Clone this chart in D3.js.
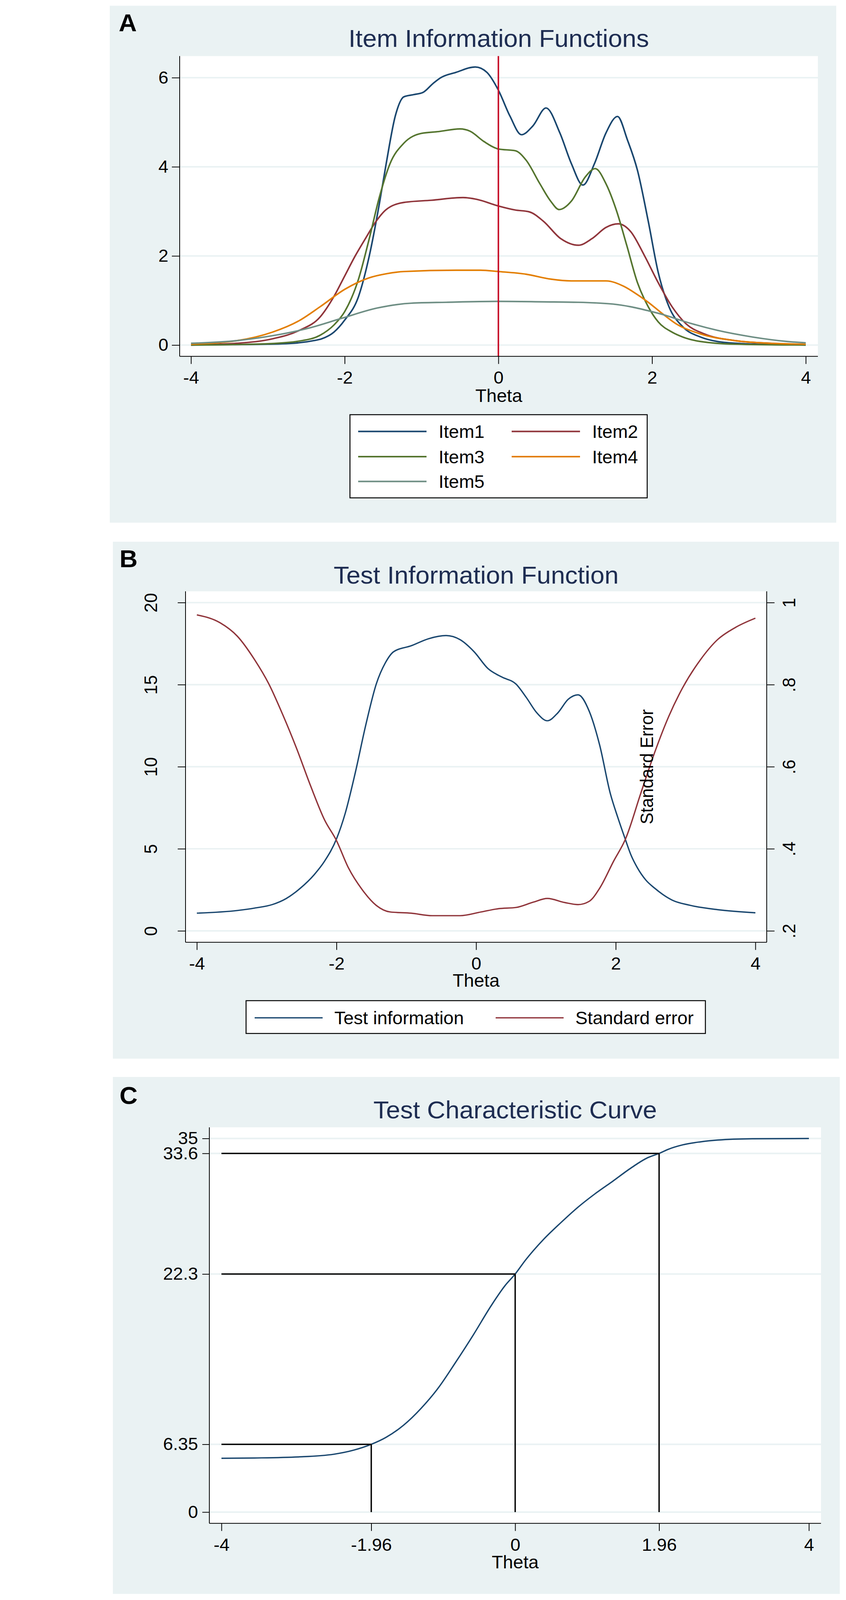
<!DOCTYPE html>
<html lang="en">
<head>
    <meta charset="UTF-8">
    <title>IRT information and characteristic curves</title>
    <script src="https://d3js.org/d3.v7.min.js"></script>
    <style>
        html, body {
            margin: 0;
            overflow: hidden;
            background: #ffffff;
        }
        svg {
            display: block;
            font-family: "Liberation Sans", Arial, sans-serif;
        }
    </style>
</head>
<body>
<svg id="viz"></svg>
<script>
    // ---- data ----
    var thetaTicks = [-4, -2, 0, 2, 4];

    // panel A : item information
    var itemNames = ["Item1", "Item2", "Item3", "Item4", "Item5"];
    var itemColors = ["#1a476f", "#90353b", "#55752f", "#e37e00", "#6e8e84"];
    var infoTicksA = [0, 2, 4, 6];
    var item1 = [[-4, 0], [-3.5, 0.01], [-3, 0.02], [-2.6, 0.05], [-2.4, 0.1], [-2.3, 0.14], [-2.14, 0.29],
        [-2, 0.56], [-1.82, 1.09], [-1.68, 2.0], [-1.55, 3.16], [-1.46, 4.07], [-1.34, 5.15], [-1.23, 5.57],
        [-1.1, 5.62], [-0.98, 5.67], [-0.85, 5.87], [-0.75, 6.0], [-0.55, 6.12], [-0.3, 6.24], [-0.15, 6.12],
        [0, 5.72], [0.15, 5.14], [0.3, 4.72], [0.45, 4.92], [0.62, 5.32], [0.8, 4.76], [0.95, 4.07],
        [1.1, 3.59], [1.25, 4.07], [1.4, 4.76], [1.55, 5.13], [1.68, 4.6], [1.81, 3.92], [1.95, 2.78],
        [2.08, 1.63], [2.22, 0.86], [2.4, 0.41], [2.63, 0.18], [2.85, 0.08], [3.2, 0.03], [3.6, 0.01], [4, 0]];
    var item2 = [[-4, 0], [-3.4, 0.04], [-2.94, 0.14], [-2.59, 0.33], [-2.32, 0.63], [-2.14, 1.09], [-2, 1.55],
        [-1.86, 2.01], [-1.73, 2.39], [-1.59, 2.78], [-1.46, 3.04], [-1.23, 3.2], [-0.87, 3.25], [-0.46, 3.31],
        [-0.28, 3.27], [0, 3.12], [0.22, 3.03], [0.4, 2.99], [0.585, 2.78], [0.81, 2.39], [1.04, 2.24],
        [1.22, 2.39], [1.4, 2.64], [1.56, 2.72], [1.72, 2.55], [1.9, 2.01], [2.08, 1.4], [2.26, 0.86],
        [2.44, 0.48], [2.68, 0.25], [3.08, 0.1], [3.53, 0.04], [4, 0.01]];
    var item3 = [[-4, 0], [-3.5, 0.01], [-3, 0.03], [-2.59, 0.09], [-2.32, 0.22], [-2.14, 0.45], [-2, 0.75],
        [-1.82, 1.48], [-1.68, 2.39], [-1.55, 3.31], [-1.41, 4.07], [-1.23, 4.53], [-1, 4.75], [-0.78, 4.79],
        [-0.5, 4.85], [-0.37, 4.8], [-0.19, 4.57], [0, 4.4], [0.22, 4.36], [0.36, 4.15], [0.54, 3.62],
        [0.68, 3.23], [0.79, 3.04], [0.95, 3.23], [1.13, 3.77], [1.26, 3.96], [1.4, 3.62], [1.54, 3.0],
        [1.67, 2.24], [1.81, 1.4], [1.95, 0.86], [2.08, 0.52], [2.26, 0.29], [2.4, 0.18], [2.63, 0.08],
        [3.08, 0.02], [4, 0]];
    var item4 = [[-4, 0.02], [-3.4, 0.1], [-2.94, 0.29], [-2.59, 0.55], [-2.32, 0.86], [-2, 1.25], [-1.68, 1.51],
        [-1.46, 1.6], [-1.23, 1.65], [-0.55, 1.68], [-0.23, 1.68], [0, 1.65], [0.36, 1.59], [0.68, 1.48],
        [0.95, 1.44], [1.4, 1.44], [1.63, 1.32], [1.81, 1.13], [1.95, 0.96], [2.13, 0.71], [2.31, 0.48],
        [2.63, 0.25], [3.08, 0.1], [3.53, 0.04], [4, 0.02]];
    var item5 = [[-4, 0.04], [-3.4, 0.1], [-2.94, 0.21], [-2.49, 0.37], [-2.04, 0.6], [-1.58, 0.83], [-1.13, 0.94],
        [-0.68, 0.96], [0, 0.98], [0.585, 0.97], [1.04, 0.96], [1.49, 0.92], [1.72, 0.86], [1.95, 0.77],
        [2.17, 0.67], [2.4, 0.54], [2.85, 0.33], [3.31, 0.18], [3.76, 0.08], [4, 0.05]];
    var items = [item1, item2, item3, item4, item5];

    // panel B : test information and standard error
    var infoTicksB = [0, 5, 10, 15, 20];
    var seTicks = [0.2, 0.4, 0.6, 0.8, 1];
    var seTickLabels = [".2", ".4", ".6", ".8", "1"];
    var seriesNamesB = ["Test information", "Standard error"];
    var seriesColorsB = ["#1a476f", "#90353b"];
    var testInfo = [[-4, 1.08], [-3.42, 1.24], [-3.17, 1.39], [-2.92, 1.6], [-2.72, 1.97], [-2.52, 2.59],
        [-2.32, 3.42], [-2.17, 4.25], [-2, 5.6], [-1.875, 7.16], [-1.73, 9.65], [-1.58, 12.55], [-1.43, 15.04],
        [-1.3, 16.33], [-1.18, 17.01], [-0.93, 17.37], [-0.68, 17.8], [-0.43, 17.99], [-0.23, 17.74],
        [-0.03, 17.01], [0.17, 15.98], [0.37, 15.46], [0.57, 15.04], [0.72, 14.21], [0.87, 13.28], [1.02, 12.8],
        [1.17, 13.28], [1.32, 14.11], [1.46, 14.38], [1.62, 13.38], [1.77, 11.31], [1.92, 8.4], [2.03, 6.9],
        [2.135, 5.6], [2.22, 4.6], [2.31, 3.84], [2.43, 3.1], [2.56, 2.59], [2.81, 1.87], [3.06, 1.56],
        [3.46, 1.29], [4, 1.1]];
    var stdError = [[-4, 0.97], [-3.67, 0.951], [-3.42, 0.918], [-3.17, 0.86], [-2.97, 0.802], [-2.77, 0.727],
        [-2.57, 0.644], [-2.37, 0.553], [-2.17, 0.47], [-2, 0.42], [-1.83, 0.354], [-1.63, 0.3], [-1.43, 0.262],
        [-1.23, 0.246], [-0.93, 0.243], [-0.63, 0.237], [-0.23, 0.237], [0.07, 0.246], [0.32, 0.254],
        [0.57, 0.257], [0.82, 0.27], [1.02, 0.279], [1.27, 0.269], [1.46, 0.264], [1.62, 0.272], [1.77, 0.304],
        [1.97, 0.37], [2.14, 0.424], [2.36, 0.536], [2.56, 0.636], [2.76, 0.723], [2.96, 0.793], [3.21, 0.86],
        [3.46, 0.91], [3.71, 0.939], [4, 0.962]];

    // panel C : test characteristic curve
    var thetaTicksC = [-4, -1.96, 0, 1.96, 4];
    var scoreTicksC = [0, 6.35, 22.3, 33.6, 35];
    var cutTheta = [-1.96, 0, 1.96];
    var cutScore = [6.35, 22.3, 33.6];
    var tcc = [[-4, 5.04], [-3.55, 5.07], [-2.95, 5.17], [-2.47, 5.42], [-2.2, 5.8], [-1.96, 6.35], [-1.76, 7.0],
        [-1.52, 8.14], [-1.28, 9.73], [-1.045, 11.65], [-0.81, 14.04], [-0.57, 16.6], [-0.33, 19.3],
        [-0.14, 21.2], [0, 22.3], [0.14, 23.6], [0.38, 25.5], [0.62, 27.1], [0.855, 28.56], [1.09, 29.83],
        [1.33, 31.0], [1.57, 32.2], [1.805, 33.2], [1.96, 33.6], [2.09, 34.0], [2.28, 34.4], [2.52, 34.68],
        [2.76, 34.85], [3.23, 34.97], [4, 35.0]];

    // ---- drawing ----
    // the figure is laid out on a 2166 x 4194 sheet and stretched to the visible window height
    var W = 2166, H = 4194;
    var viewH = window.innerHeight || H;
    var bgColor = "#eaf2f3";
    var titleColor = "#1e2d52";
    var tickFont = 46;

    var svg = d3.select("#viz")
        .attr("width", W)
        .attr("height", viewH)
        .attr("viewBox", "0 0 " + W + " " + H)
        .attr("preserveAspectRatio", "none");

    svg.append("rect").attr("width", W).attr("height", H).attr("fill", "#ffffff");

    function panel(p) {
        var g = svg.append("g");
        g.append("rect")
            .attr("x", p.bx).attr("y", p.by)
            .attr("width", p.bw).attr("height", p.bh)
            .attr("fill", bgColor);
        g.append("rect")
            .attr("x", p.left).attr("y", p.top)
            .attr("width", p.right - p.left).attr("height", p.bottom - p.top)
            .attr("fill", "#ffffff");
        g.append("text")
            .attr("x", p.letterX).attr("y", p.letterY)
            .attr("font-size", 64).attr("font-weight", "bold")
            .attr("fill", "#000")
            .text(p.letter);
        g.append("text")
            .attr("x", (p.left + p.right) / 2).attr("y", p.titleY)
            .attr("text-anchor", "middle")
            .attr("font-size", 65).attr("fill", titleColor)
            .text(p.title);
        g.append("text")
            .attr("x", (p.left + p.right) / 2).attr("y", p.xTitleY)
            .attr("text-anchor", "middle")
            .attr("font-size", 47).attr("fill", "#000")
            .text("Theta");
        return g;
    }

    function grid(g, p, y, ticks) {
        g.selectAll(null)
            .data(ticks)
            .enter()
            .append("line")
            .attr("x1", p.left).attr("x2", p.right)
            .attr("y1", function (d) { return y(d); })
            .attr("y2", function (d) { return y(d); })
            .attr("stroke", bgColor)
            .attr("stroke-width", 4);
    }

    function frame(g, p, rightLine) {
        g.append("line")
            .attr("x1", p.left).attr("x2", p.left)
            .attr("y1", p.top).attr("y2", p.bottom)
            .attr("stroke", "#000").attr("stroke-width", 2);
        g.append("line")
            .attr("x1", p.left).attr("x2", p.right)
            .attr("y1", p.bottom).attr("y2", p.bottom)
            .attr("stroke", "#000").attr("stroke-width", 2);
        if (rightLine) {
            g.append("line")
                .attr("x1", p.right).attr("x2", p.right)
                .attr("y1", p.top).attr("y2", p.bottom)
                .attr("stroke", "#000").attr("stroke-width", 2);
        }
    }

    function styleAxis(sel) {
        sel.select(".domain").remove();
        sel.selectAll(".tick line").attr("stroke", "#000").attr("stroke-width", 2);
        sel.selectAll(".tick text")
            .attr("fill", "#000")
            .attr("font-size", tickFont)
            .attr("font-family", "'Liberation Sans', Arial, sans-serif");
    }

    function xAxisBottom(g, p, x, ticks) {
        g.append("g")
            .attr("transform", "translate(0," + p.bottom + ")")
            .call(d3.axisBottom(x).tickValues(ticks).tickSize(20).tickPadding(19)
                .tickFormat(function (d) { return String(d); }))
            .call(styleAxis);
    }

    // ---------- Panel A ----------
    var pA = {bx: 281, by: 15, bw: 1860, bh: 1355, left: 460, right: 2094, top: 147, bottom: 934,
        letter: "A", letterX: 304, letterY: 82, title: "Item Information Functions", titleY: 123, xTitleY: 1054};
    var gA = panel(pA);
    var xA = d3.scaleLinear().domain([-4, 4]).range([489, 2063]);
    var yA = d3.scaleLinear().domain([0, 6]).range([904.5, 203.6]);
    grid(gA, pA, yA, infoTicksA);

    var lineA = d3.line()
        .x(function (d) { return xA(d[0]); })
        .y(function (d) { return yA(d[1]); })
        .curve(d3.curveMonotoneX);

    // draw in Stata order, item1 first
    gA.selectAll(".item")
        .data(items)
        .enter()
        .append("path")
        .attr("class", "item")
        .attr("d", lineA)
        .attr("fill", "none")
        .attr("stroke", function (d, i) { return itemColors[i]; })
        .attr("stroke-width", 4)
        .attr("stroke-linejoin", "round");

    gA.append("line")
        .attr("x1", xA(0)).attr("x2", xA(0))
        .attr("y1", pA.top).attr("y2", pA.bottom)
        .attr("stroke", "#c8102e").attr("stroke-width", 4);

    frame(gA, pA, false);
    gA.append("g")
        .attr("transform", "translate(" + pA.left + ",0)")
        .call(d3.axisLeft(yA).tickValues(infoTicksA).tickSize(20).tickPadding(9)
            .tickFormat(function (d) { return String(d); }))
        .call(styleAxis);
    xAxisBottom(gA, pA, xA, thetaTicks);

    // legend A
    var legA = gA.append("g");
    legA.append("rect")
        .attr("x", 896).attr("y", 1087).attr("width", 761).attr("height", 218)
        .attr("fill", "#fff").attr("stroke", "#000").attr("stroke-width", 2.5);
    var legAEntries = legA.selectAll(".entry")
        .data(itemNames)
        .enter()
        .append("g")
        .attr("class", "entry")
        .attr("transform", function (d, i) {
            return "translate(" + (i % 2 === 0 ? 917 : 1310) + "," + [1131, 1197, 1262][Math.floor(i / 2)] + ")";
        });
    legAEntries.append("line")
        .attr("x1", 0).attr("x2", 175)
        .attr("stroke", function (d, i) { return itemColors[i]; })
        .attr("stroke-width", 4);
    legAEntries.append("text")
        .attr("x", 206).attr("dy", "0.36em")
        .attr("font-size", 47).attr("fill", "#000")
        .text(function (d) { return d; });

    // ---------- Panel B ----------
    var pB = {bx: 289, by: 1420, bw: 1859, bh: 1355, left: 475, right: 1963, top: 1550, bottom: 2470,
        letter: "B", letterX: 306, letterY: 1487, title: "Test Information Function", titleY: 1530, xTitleY: 2586};
    var gB = panel(pB);
    var xB = d3.scaleLinear().domain([-4, 4]).range([504, 1934]);
    var yB = d3.scaleLinear().domain([0, 20]).range([2440, 1579.5]);
    var ySE = d3.scaleLinear().domain([0.2, 1]).range([2440, 1579.5]);
    grid(gB, pB, yB, infoTicksB);

    var infoLine = d3.line()
        .x(function (d) { return xB(d[0]); })
        .y(function (d) { return yB(d[1]); })
        .curve(d3.curveMonotoneX);
    var seLine = d3.line()
        .x(function (d) { return xB(d[0]); })
        .y(function (d) { return ySE(d[1]); })
        .curve(d3.curveMonotoneX);

    gB.append("path").attr("d", infoLine(testInfo))
        .attr("fill", "none").attr("stroke", seriesColorsB[0]).attr("stroke-width", 3.5);
    gB.append("path").attr("d", seLine(stdError))
        .attr("fill", "none").attr("stroke", seriesColorsB[1]).attr("stroke-width", 3.5);

    frame(gB, pB, true);
    gB.append("g")
        .attr("transform", "translate(" + pB.left + ",0)")
        .call(d3.axisLeft(yB).tickValues(infoTicksB).tickSize(20))
        .call(styleAxis)
        .selectAll(".tick text")
        .attr("text-anchor", "middle")
        .attr("x", 0).attr("y", -73).attr("dy", 0)
        .attr("transform", "rotate(-90)");
    gB.append("g")
        .attr("transform", "translate(" + pB.right + ",0)")
        .call(d3.axisRight(ySE).tickValues(seTicks).tickSize(20)
            .tickFormat(function (d, i) { return seTickLabels[i]; }))
        .call(styleAxis)
        .selectAll(".tick text")
        .attr("text-anchor", "middle")
        .attr("x", 0).attr("y", 73).attr("dy", 0)
        .attr("transform", "rotate(-90)");
    xAxisBottom(gB, pB, xB, thetaTicks);

    gB.append("text")
        .attr("transform", "translate(1672," + ((pB.top + pB.bottom) / 2) + ") rotate(-90)")
        .attr("text-anchor", "middle")
        .attr("font-size", 46).attr("fill", "#000")
        .text("Standard Error");

    // legend B
    var legB = gB.append("g");
    legB.append("rect")
        .attr("x", 630).attr("y", 2623).attr("width", 1176).attr("height", 86)
        .attr("fill", "#fff").attr("stroke", "#000").attr("stroke-width", 2.5);
    var legBEntries = legB.selectAll(".entry")
        .data(seriesNamesB)
        .enter()
        .append("g")
        .attr("class", "entry")
        .attr("transform", function (d, i) { return "translate(" + [652, 1269][i] + ",2668)"; });
    legBEntries.append("line")
        .attr("x1", 0).attr("x2", 174)
        .attr("stroke", function (d, i) { return seriesColorsB[i]; })
        .attr("stroke-width", 3.5);
    legBEntries.append("text")
        .attr("x", 204).attr("dy", "0.36em")
        .attr("font-size", 47).attr("fill", "#000")
        .text(function (d) { return d; });

    // ---------- Panel C ----------
    var pC = {bx: 289, by: 2823, bw: 1861, bh: 1355, left: 536, right: 2102, top: 2955, bottom: 3993,
        letter: "C", letterX: 306, letterY: 2894, title: "Test Characteristic Curve", titleY: 2932, xTitleY: 4111};
    var gC = panel(pC);
    var xC = d3.scaleLinear().domain([-4, 4]).range([567, 2071]);
    var yC = d3.scaleLinear().domain([0, 35]).range([3963.6, 2984.2]);
    grid(gC, pC, yC, scoreTicksC);

    var tccLine = d3.line()
        .x(function (d) { return xC(d[0]); })
        .y(function (d) { return yC(d[1]); })
        .curve(d3.curveMonotoneX);
    gC.append("path").attr("d", tccLine(tcc))
        .attr("fill", "none").attr("stroke", "#1a476f").attr("stroke-width", 3.5);

    // drop lines from the cut points
    gC.selectAll(".hcut")
        .data(cutTheta)
        .enter()
        .append("line")
        .attr("x1", xC(-4))
        .attr("x2", function (d) { return xC(d); })
        .attr("y1", function (d, i) { return yC(cutScore[i]); })
        .attr("y2", function (d, i) { return yC(cutScore[i]); })
        .attr("stroke", "#000").attr("stroke-width", 3.5);
    gC.selectAll(".vcut")
        .data(cutTheta)
        .enter()
        .append("line")
        .attr("x1", function (d) { return xC(d); })
        .attr("x2", function (d) { return xC(d); })
        .attr("y1", yC(0))
        .attr("y2", function (d, i) { return yC(cutScore[i]); })
        .attr("stroke", "#000").attr("stroke-width", 3.5);

    frame(gC, pC, false);
    gC.append("g")
        .attr("transform", "translate(" + pC.left + ",0)")
        .call(d3.axisLeft(yC).tickValues(scoreTicksC).tickSize(18).tickPadding(11)
            .tickFormat(function (d) { return String(d); }))
        .call(styleAxis);
    xAxisBottom(gC, pC, xC, thetaTicksC);
</script>
</body>
</html>
